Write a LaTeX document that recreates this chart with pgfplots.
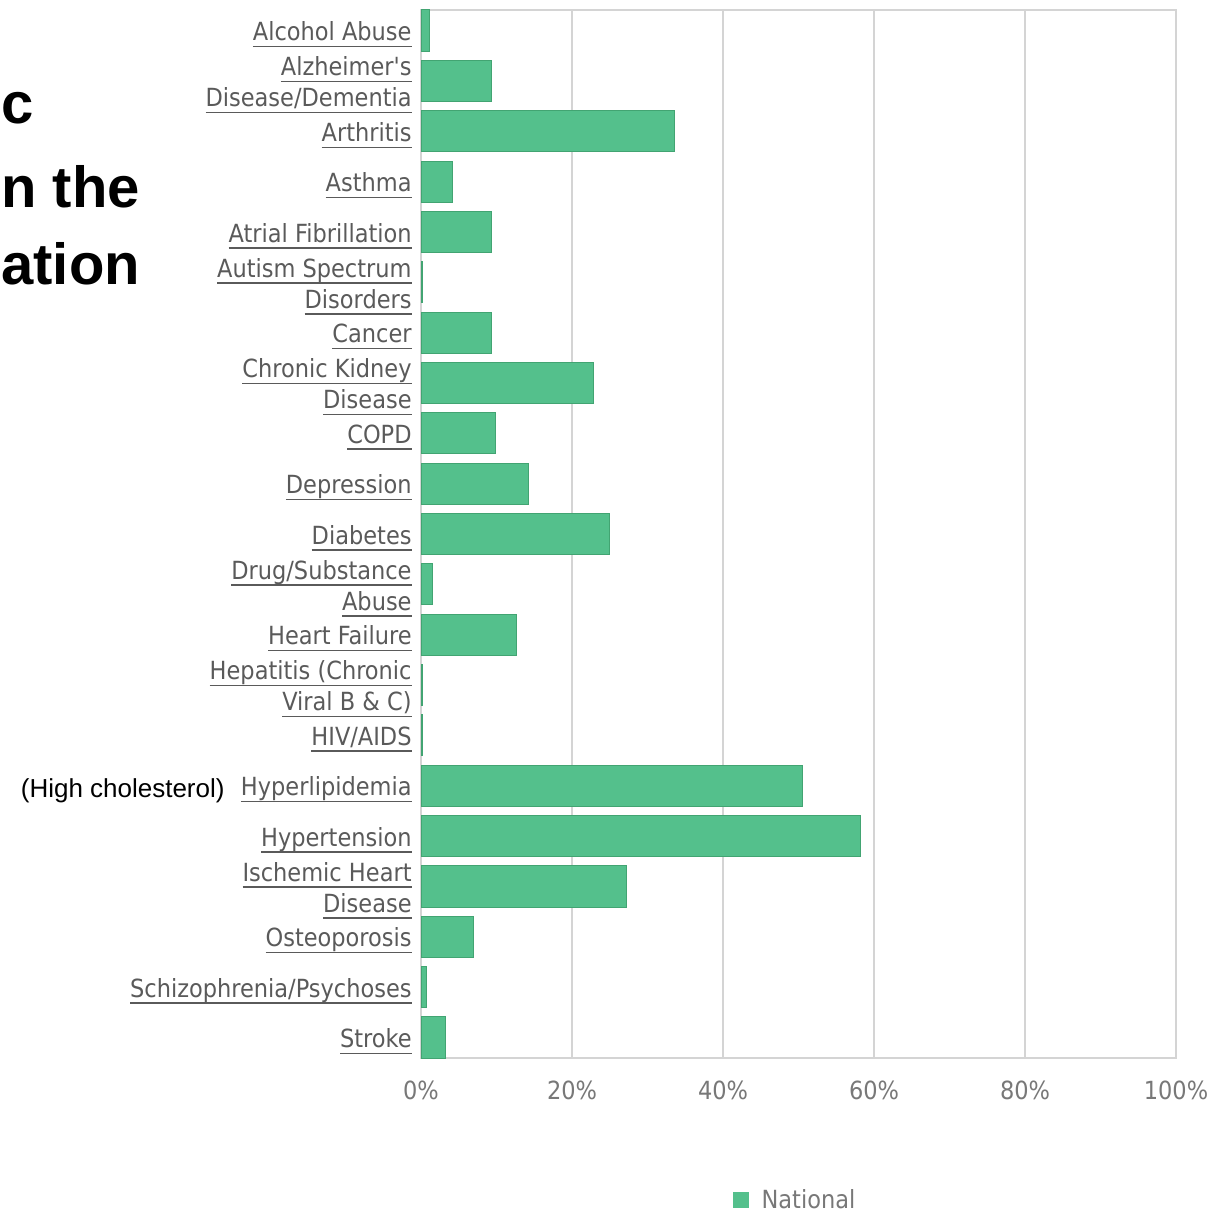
\documentclass[border=0pt]{standalone}
\usepackage{pgfplots}
\pgfplotsset{compat=1.18}
\usepackage{fontspec}
\setmainfont{Liberation Sans}
\newfontfamily\labfont{DejaVu Sans Condensed}
\definecolor{barg}{RGB}{84,192,140}
\definecolor{bare}{RGB}{66,164,114}
\definecolor{labgray}{RGB}{90,90,90}
\definecolor{tickgray}{RGB}{120,120,120}
\definecolor{gridgray}{RGB}{212,212,212}
\NewDocumentCommand\ul{m}{\setbox0\hbox{#1}\rlap{\rule[-3.2pt]{\wd0}{0.75pt}}\box0}
\begin{document}
\begin{tikzpicture}
\useasboundingbox (0pt,0pt) rectangle (607pt,606pt);
\clip (0pt,0pt) rectangle (607pt,606pt);
\begin{scope}[x=0.5pt,y=0.5pt]
\node[anchor=base west,font=\bfseries\fontsize{29}{36}\selectfont,inner sep=0] at (1,1212-124) {c};
\node[anchor=base west,font=\bfseries\fontsize{29}{36}\selectfont,inner sep=0] at (1,1212-208) {n the};
\node[anchor=base west,font=\bfseries\fontsize{29}{36}\selectfont,inner sep=0] at (1,1212-285) {ation};
\node[anchor=base east,font=\fontsize{13}{15}\selectfont,inner sep=0] at (225,1212-797) {(High cholesterol)};
\end{scope}
\begin{axis}[
  at={(210.5pt,77pt)}, anchor=south west,
  scale only axis, width=377.5pt, height=524pt,
  xbar, bar width=0.82,
  xmin=0, xmax=100, ymin=-0.41, ymax=20.41,
  xtick={0,20,40,60,80,100},
  xticklabels={0\%,20\%,40\%,60\%,80\%,100\%},
  ytick={0,...,20},
  yticklabels={
    \ul{Stroke},
    \ul{Schizophrenia/Psychoses},
    \ul{Osteoporosis},
    {\ul{Ischemic Heart}\\\ul{Disease}},
    \ul{Hypertension},
    \ul{Hyperlipidemia},
    \ul{HIV/AIDS},
    {\ul{Hepatitis (Chronic}\\\ul{Viral B \& C)}},
    \ul{Heart Failure},
    {\ul{Drug/Substance}\\\ul{Abuse}},
    \ul{Diabetes},
    \ul{Depression},
    \ul{COPD},
    {\ul{Chronic Kidney}\\\ul{Disease}},
    \ul{Cancer},
    {\ul{Autism Spectrum}\\\ul{Disorders}},
    \ul{Atrial Fibrillation},
    \ul{Asthma},
    \ul{Arthritis},
    {\ul{Alzheimer's}\\\ul{Disease/Dementia}},
    \ul{Alcohol Abuse}},
  yticklabel style={font=\labfont\fontsize{12.5}{15.5}\selectfont, text=labgray, align=right, inner sep=0pt, xshift=-4.5pt, yshift=-2pt},
  xticklabel style={font=\labfont\fontsize{12.5}{15}\selectfont, text=tickgray, inner sep=0pt, anchor=center, yshift=-16pt},
  major tick length=0pt,
  xmajorgrids, major grid style={draw=gridgray, line width=1pt},
  axis line style={draw=gridgray, line width=1pt},
  tick style={draw=none},
  legend style={at={(0.497,-0.1355)}, anchor=center, draw=none, fill=none,
    font=\labfont\fontsize{12.5}{15}\selectfont, text=tickgray},
  legend image code/.code={\fill[barg] (0pt,-3.75pt) rectangle (7.5pt,3.75pt); \path[draw=none,fill=none] (7.5pt,0pt) -- (12pt,0pt);},
  legend cell align=left,
]
\addplot[fill=barg, draw=bare, line width=0.5pt] coordinates {
(3.3,0) (0.7,1) (6.9,2) (27.2,3) (58.2,4) (50.5,5) (0.2,6) (0.2,7)
(12.7,8) (1.5,9) (25.0,10) (14.3,11) (9.9,12) (22.9,13) (9.4,14)
(0.2,15) (9.4,16) (4.2,17) (33.6,18) (9.4,19) (1.1,20)};
\addlegendentry{National}
\end{axis}
\end{tikzpicture}
\end{document}
